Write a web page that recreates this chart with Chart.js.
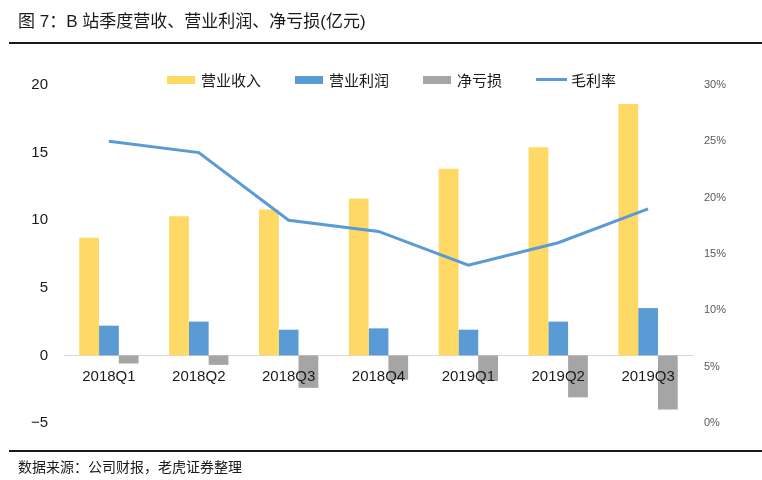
<!DOCTYPE html>
<html>
<head>
<meta charset="utf-8">
<script src="https://cdn.jsdelivr.net/npm/chart.js@4.4.0/dist/chart.umd.min.js"></script>
<style>
  html, body { margin: 0; padding: 0; background: #fff; }
  body { width: 762px; height: 480px; position: relative; overflow: hidden;
         font-family: "Liberation Sans", "Noto Sans CJK SC", sans-serif; }
  #chart-wrap { position: absolute; left: 0; top: 0; width: 762px; height: 480px; }
  .title { position: absolute; left: 18px; top: 7px; font-size: 17px; color: #1a1a1a; white-space: nowrap; }
  .rule { position: absolute; left: 9px; right: 0; height: 2px; background: #1a1a1a; }
  .source { position: absolute; left: 18px; top: 456px; font-size: 14px; color: #1a1a1a; white-space: nowrap; }
  #legend { position: absolute; left: 167px; top: 69px; display: flex; align-items: center;
            font-size: 15px; color: #1a1a1a; white-space: nowrap; }
  #legend .item { display: flex; align-items: center; margin-right: 34px; }
  #legend .sw { width: 28px; height: 8px; margin-right: 6px; }
  #legend .sw.line { width: 31px; height: 3px; margin-right: 4px; }
</style>
</head>
<body>
<div id="chart-wrap"><canvas id="bili-chart" width="762" height="480"></canvas></div>
<div class="title">图 7：B 站季度营收、营业利润、净亏损(亿元)</div>
<div class="rule" style="top:42px"></div>
<div id="legend"></div>
<div class="rule" style="top:450px"></div>
<div class="source">数据来源：公司财报，老虎证券整理</div>

<script>
'use strict';

// Quarterly figures (亿元) and gross margin (%)
const quarters    = ['2018Q1', '2018Q2', '2018Q3', '2018Q4', '2019Q1', '2019Q2', '2019Q3'];
const revenue     = [8.7, 10.3, 10.8, 11.6, 13.8, 15.4, 18.6];
const opProfit    = [2.2, 2.5, 1.9, 2.0, 1.9, 2.5, 3.5];
const netLoss     = [-0.6, -0.7, -2.4, -1.8, -1.9, -3.1, -4.0];
const grossMargin = [25, 24, 18, 17, 14, 16, 19];

const leftTicks  = [-5, 0, 5, 10, 15, 20];
const rightTicks = [0, 5, 10, 15, 20, 25, 30];

const FONT = '"Liberation Sans", "Noto Sans CJK SC", sans-serif';

const bars = (label, data, color) => ({
  type: 'bar', label, data, backgroundColor: color, yAxisID: 'y', order: 1,
  categoryPercentage: 0.66, barPercentage: 1.0,
});

const datasets = [
  bars('营业收入', revenue, '#FFD966'),
  bars('营业利润', opProfit, '#5B9BD5'),
  bars('净亏损', netLoss, '#A5A5A5'),
  {
    type: 'line', label: '毛利率', data: grossMargin, yAxisID: 'y1', order: 0,
    borderColor: '#5B9BD5', backgroundColor: '#5B9BD5', borderWidth: 3,
    pointRadius: 0, tension: 0, fill: false,
  },
];

const chart = new Chart(document.getElementById('bili-chart'), {
  type: 'bar',
  data: { labels: quarters, datasets },
  options: {
    responsive: false, animation: false,
    layout: { padding: { top: 85, bottom: 57, left: 0, right: 0 } },
    plugins: { legend: { display: false }, tooltip: { enabled: false } },
    scales: {
      x: {
        position: { y: 0 },
        grid: { display: false, drawTicks: false },
        border: { display: true, color: '#D9D9D9', width: 1 },
        // z: 1 -> category labels drawn over the loss bars
        ticks: { color: '#1a1a1a', font: { family: FONT, size: 15 }, padding: 12, z: 1 },
      },
      y: {
        position: 'left', min: -5, max: 20,
        afterBuildTicks: s => { s.ticks = leftTicks.map(v => ({ value: v })); },
        afterFit: s => { s.width = 64; },
        grid: { display: false, drawTicks: false },
        border: { display: false },
        ticks: {
          color: '#1a1a1a', font: { family: FONT, size: 15 }, padding: 16,
          callback: v => (v < 0 ? '\u2212' + Math.abs(v) : String(v)),
        },
      },
      y1: {
        position: 'right', min: 0, max: 30,
        afterBuildTicks: s => { s.ticks = rightTicks.map(v => ({ value: v })); },
        afterFit: s => { s.width = 69; },
        grid: { display: false, drawTicks: false },
        border: { display: false },
        ticks: {
          color: '#595959', font: { family: FONT, size: 11 }, padding: 11,
          callback: v => v + '%',
        },
      },
    },
  },
});

// Legend from the chart's own datasets
document.getElementById('legend').innerHTML = chart.data.datasets.map(ds => `
  <div class="item">
    <div class="sw${ds.type === 'line' ? ' line' : ''}" style="background:${ds.type === 'line' ? ds.borderColor : ds.backgroundColor}"></div>
    <span>${ds.label}</span>
  </div>`).join('');
</script>
</body>
</html>
